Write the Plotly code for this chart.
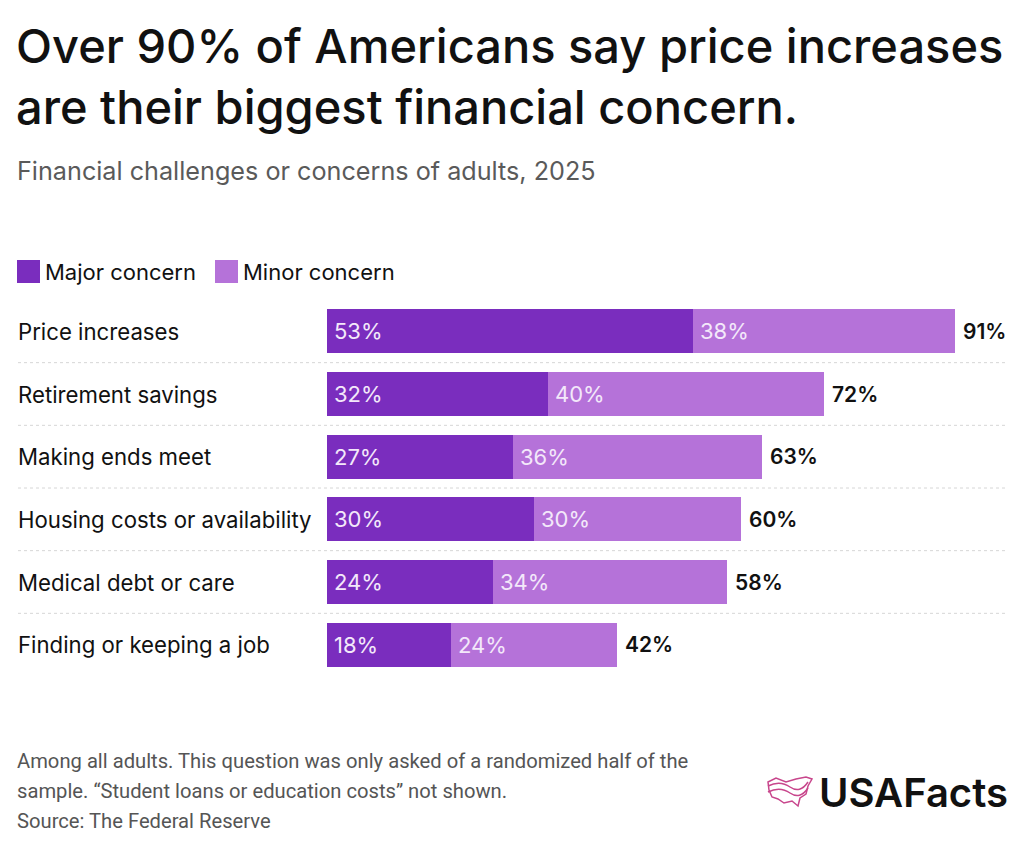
import plotly.graph_objects as go

categories = ["Price increases", "Retirement savings", "Making ends meet",
              "Housing costs or availability", "Medical debt or care",
              "Finding or keeping a job"]
major = [53, 32, 27, 30, 24, 18]
minor = [38, 40, 36, 30, 34, 24]
totals = [91, 72, 63, 60, 58, 42]

MAJOR_C = "#7A2DBE"
MINOR_C = "#B572D9"
FONT = "Inter"

W, H = 1024, 852
L, R, T, B = 327, 7, 300, 176
PW, PH = W - L - R, H - T - B


def px(x):
    return (x - L) / PW


def py(y):
    return (H - B - y) / PH


fig = go.Figure()
fig.add_bar(y=categories, x=major, orientation="h", marker_color=MAJOR_C,
            marker_line_width=0, name="Major concern", hoverinfo="x+y")
fig.add_bar(y=categories, x=minor, orientation="h", marker_color=MINOR_C,
            marker_line_width=0, name="Minor concern", hoverinfo="x+y")

ann = []
shapes = []
for i, c in enumerate(categories):
    ann.append(dict(x=px(16), xref="paper", y=c, yref="y", text=c, showarrow=False,
                    xanchor="left", yanchor="middle",
                    font=dict(family=FONT, size=22.2, color="#111111")))
    ann.append(dict(x=0, xref="x", y=c, yref="y", text=f"{major[i]}%", showarrow=False,
                    xanchor="left", yanchor="middle", xshift=5,
                    font=dict(family=FONT, size=22, color="#F3E8FA")))
    ann.append(dict(x=major[i], xref="x", y=c, yref="y", text=f"{minor[i]}%", showarrow=False,
                    xanchor="left", yanchor="middle", xshift=5,
                    font=dict(family=FONT, size=22, color="#F3E8FA")))
    ann.append(dict(x=major[i] + minor[i], xref="x", y=c, yref="y", text=f"{totals[i]}%",
                    showarrow=False, xanchor="left", yanchor="middle", xshift=6,
                    font=dict(family=FONT, size=21, color="#111111", weight=600)))

for k in range(len(categories) - 1):
    shapes.append(dict(type="line", xref="paper", yref="y", x0=px(18), x1=px(1005),
                       y0=k + 0.5, y1=k + 0.5,
                       line=dict(color="#D6D6D6", width=1, dash="dot")))

# Title & subtitle
ann.append(dict(x=px(14), xref="paper", y=py(15), yref="paper", xanchor="left", yanchor="top",
                text="Over 90% of Americans say price increases<br>are their biggest financial concern.",
                showarrow=False, align="left",
                font=dict(family=FONT, size=47, color="#111111", weight=500)))
ann.append(dict(x=px(15), xref="paper", y=py(171), yref="paper", xanchor="left", yanchor="middle",
                text="Financial challenges or concerns of adults, 2025", showarrow=False,
                font=dict(family=FONT, size=25.2, color="#5A5A5A")))

# Legend
for x0, col, lab in [(17, MAJOR_C, "Major concern"), (215, MINOR_C, "Minor concern")]:
    shapes.append(dict(type="rect", xref="paper", yref="paper", x0=px(x0), x1=px(x0 + 23),
                       y0=py(283), y1=py(260), fillcolor=col, line_width=0))
    ann.append(dict(x=px(x0 + 26), xref="paper", y=py(271.5), yref="paper", xanchor="left",
                    yanchor="middle", text=lab, showarrow=False,
                    font=dict(family=FONT, size=22, color="#111111")))

# Footer
foot = ["Among all adults. This question was only asked of a randomized half of the",
        "sample. \u201cStudent loans or education costs\u201d not shown.",
        "Source: The Federal Reserve"]
for j, t in enumerate(foot):
    ann.append(dict(x=px(15), xref="paper", y=py(761 + j * 30), yref="paper", xanchor="left",
                    yanchor="middle", text=t, showarrow=False,
                    font=dict(family="Roboto", size=20.2, color="#555555")))

ann.append(dict(x=px(1010), xref="paper", y=py(792), yref="paper", xanchor="right",
                yanchor="middle", text="USAFacts", showarrow=False,
                font=dict(family=FONT, size=40, color="#111111", weight=600)))

# logo icon (approximate)
def pth(pts):
    return "M " + " L ".join(f"{px(a):.5f},{py(b):.5f}" for a, b in pts) + " Z"

outline = [(768, 782), (776, 778), (786, 782), (796, 779), (806, 777), (812, 779),
           (808, 786), (806, 794), (800, 798), (798, 806), (792, 801), (784, 803),
           (778, 799), (772, 797), (769, 790)]
shapes.append(dict(type="path", xref="paper", yref="paper", path=pth(outline),
                   line=dict(color="#C8468C", width=1.5), fillcolor="rgba(0,0,0,0)"))
for yy in (786, 792):
    shapes.append(dict(type="path", xref="paper", yref="paper",
                       path=f"M {px(768):.5f},{py(yy):.5f} Q {px(780):.5f},{py(yy-6):.5f} "
                            f"{px(790):.5f},{py(yy+1):.5f} T {px(808):.5f},{py(yy-4):.5f}",
                       line=dict(color="#C8468C", width=1.5)))

fig.update_layout(
    width=W, height=H, barmode="stack", bargap=0.3, showlegend=False,
    margin=dict(l=L, r=R, t=T, b=B),
    paper_bgcolor="white", plot_bgcolor="white",
    xaxis=dict(range=[0, 100], visible=False, fixedrange=True),
    yaxis=dict(autorange=False, range=[len(categories) - 0.5, -0.5], visible=False,
               categoryorder="array", categoryarray=categories, fixedrange=True),
    annotations=ann, shapes=shapes,
)
fig.write_html("out.html")
